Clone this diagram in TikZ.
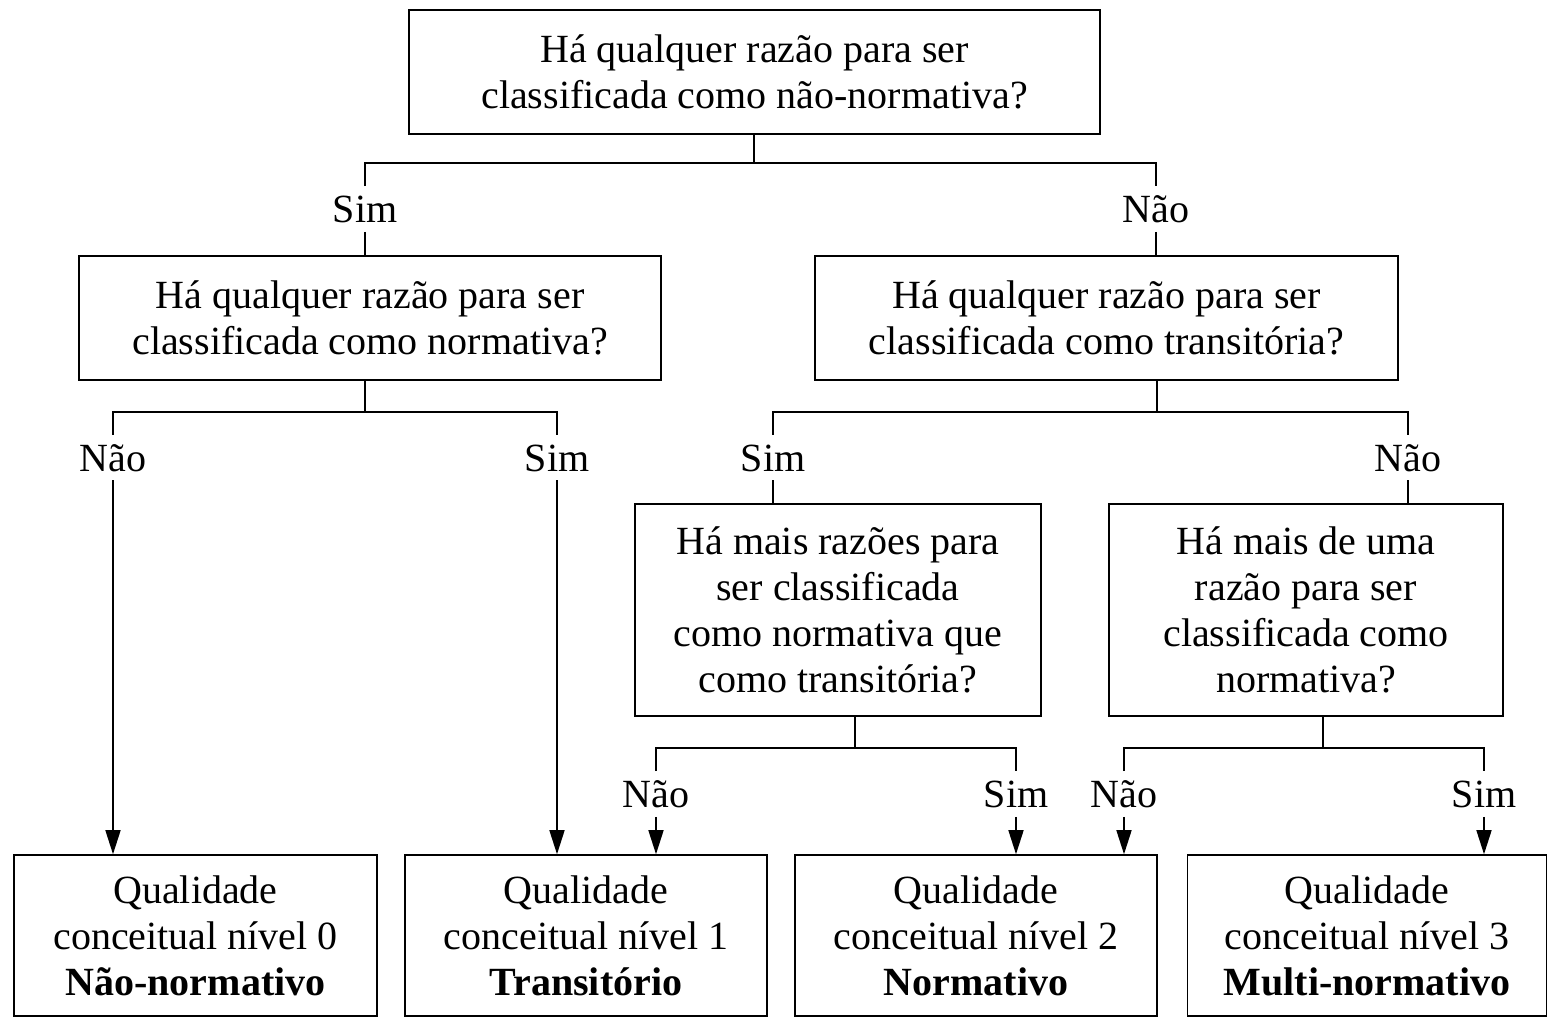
\documentclass[tikz,border=0pt]{standalone}
\usepackage{fontspec}
\setmainfont{Liberation Serif}
\usetikzlibrary{arrows.meta}
\begin{document}
\begin{tikzpicture}[x=1pt,y=-1pt,
  every path/.style={line width=1.6pt},
  box/.style={draw, line width=1.6pt, align=center, inner sep=0pt, font=\fontsize{40}{46}\selectfont},
  lab/.style={inner sep=0pt, text height=27pt, text depth=0pt, minimum height=44pt, font=\fontsize{40}{46}\selectfont},
  arr/.style={-{Triangle[length=24pt,width=15pt]}}]
\useasboundingbox (0,0) rectangle (1548,1018);
% boxes
\node[box, minimum width=691pt, minimum height=124pt] (top) at (754.5,72) {Há qualquer razão para ser\\classificada como não-normativa?};
\node[box, minimum width=582pt, minimum height=124pt] (A) at (370,318) {Há qualquer razão para ser\\classificada como normativa?};
\node[box, minimum width=583pt, minimum height=124pt] (B) at (1106.5,318) {Há qualquer razão para ser\\classificada como transitória?};
\node[box, minimum width=406pt, minimum height=212pt] (C) at (838,610) {Há mais razões para\\ser classificada\\como normativa que\\como transitória?};
\node[box, minimum width=394pt, minimum height=212pt] (D) at (1306,610) {Há mais de uma\\razão para ser\\classificada como\\normativa?};
\node[box, minimum width=363pt, minimum height=161pt] (E0) at (195.5,935.5) {Qualidade\\conceitual nível 0\\\textbf{Não-normativo}};
\node[box, minimum width=362pt, minimum height=161pt] (E1) at (586,935.5) {Qualidade\\conceitual nível 1\\\textbf{Transitório}};
\node[box, minimum width=362pt, minimum height=161pt] (E2) at (976,935.5) {Qualidade\\conceitual nível 2\\\textbf{Normativo}};
\node[box, minimum width=359pt, minimum height=161pt] (E3) at (1367,935.5) {Qualidade\\conceitual nível 3\\\textbf{Multi-normativo}};
% labels
\node[lab] (s1) at (365,209) {Sim};
\node[lab] (n1) at (1156,209) {Não};
\node[lab] (n2) at (113,457.5) {Não};
\node[lab] (s2) at (557,457.5) {Sim};
\node[lab] (s3) at (773,457.5) {Sim};
\node[lab] (n3) at (1408,457.5) {Não};
\node[lab] (n4) at (656,794) {Não};
\node[lab] (s4) at (1016,794) {Sim};
\node[lab] (n5) at (1124,794) {Não};
\node[lab] (s5) at (1484,794) {Sim};
% junctions
\coordinate (j1) at (754,163);
\coordinate (j2) at (365,412);
\coordinate (j3) at (1157,412);
\coordinate (j4) at (855,748);
\coordinate (j5) at (1323,748);
% level 1
\draw (top.south -| j1) -- (j1);
\draw (s1.north) |- (j1) -| (n1.north);
\draw (s1.south) -- (s1.south |- A.north);
\draw (n1.south) -- (n1.south |- B.north);
% level 2 left
\draw (A.south -| j2) -- (j2);
\draw (n2.north) |- (j2) -| (s2.north);
\draw[arr] (n2.south) -- (n2.south |- E0.north);
\draw[arr] (s2.south) -- (s2.south |- E1.north);
% level 2 right
\draw (B.south -| j3) -- (j3);
\draw (s3.north) |- (j3) -| (n3.north);
\draw (s3.south) -- (s3.south |- C.north);
\draw (n3.south) -- (n3.south |- D.north);
% level 3
\draw (C.south -| j4) -- (j4);
\draw (n4.north) |- (j4) -| (s4.north);
\draw[arr] (n4.south) -- (n4.south |- E1.north);
\draw[arr] (s4.south) -- (s4.south |- E2.north);
\draw (D.south -| j5) -- (j5);
\draw (n5.north) |- (j5) -| (s5.north);
\draw[arr] (n5.south) -- (n5.south |- E2.north);
\draw[arr] (s5.south) -- (s5.south |- E3.north);
\end{tikzpicture}
\end{document}
